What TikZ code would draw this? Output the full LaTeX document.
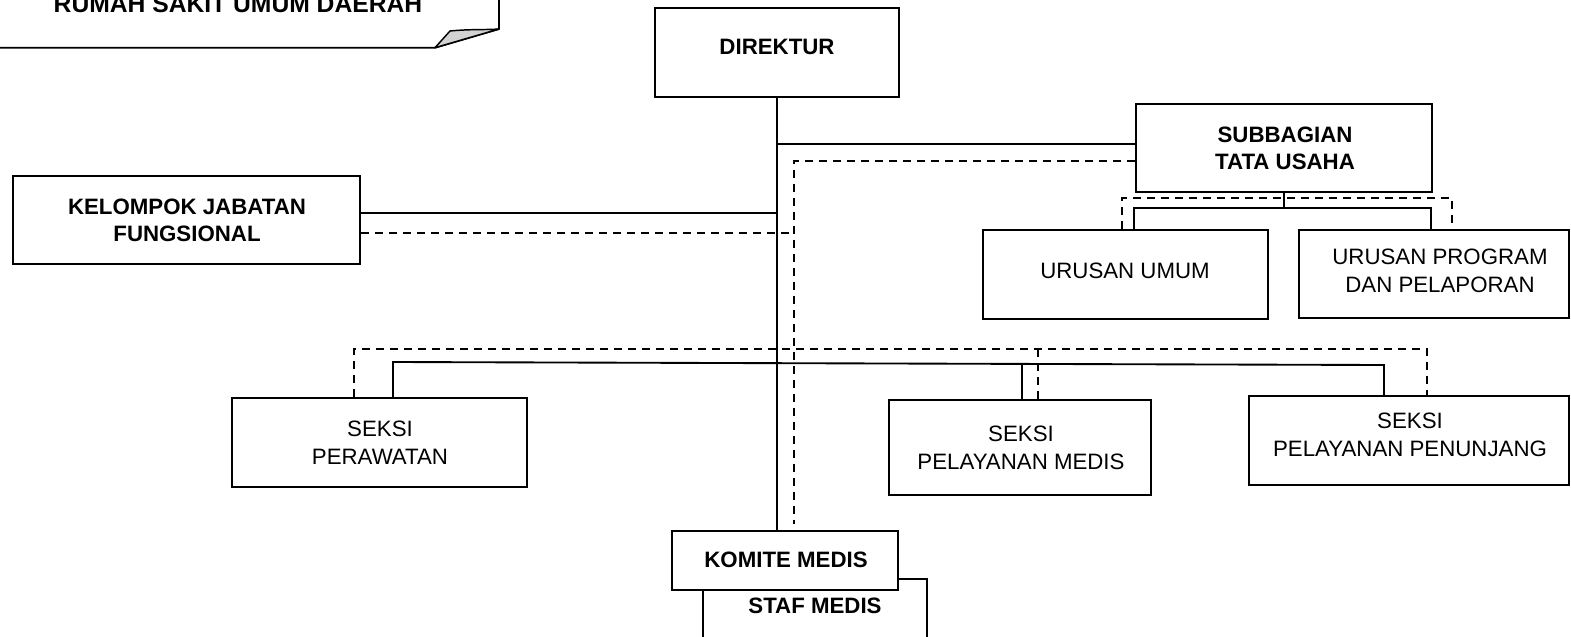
\documentclass[tikz,border=0pt]{standalone}
\usepackage{fontspec}
\setmainfont{Liberation Sans}
\usetikzlibrary{fit}
\tikzset{
  box/.style={draw, fill=white, line width=1.4pt, inner sep=0pt},
  txt/.style={align=center, inner sep=0pt, font=\fontsize{16.7}{21}\selectfont},
  btxt/.style={align=center, inner sep=0pt, font=\fontsize{16.7}{20}\selectfont\bfseries},
  conn/.style={line width=1.4pt},
  dconn/.style={line width=1.4pt, dash pattern=on 6pt off 4.5pt}
}
\begin{document}
\begin{tikzpicture}[x=0.75pt,y=-0.75pt]
\useasboundingbox (0,0) rectangle (1571,636);
\fill[white] (0,0) rectangle (1571,636);
\clip (0,0) rectangle (1571,636);

% callout
\draw[conn, line join=round] (-10,47.7) -- (435,47.7) -- (499,29) -- (499,-10);
\filldraw[line width=1.1pt, fill=gray!35, line join=round] (435,47.7) -- (450,31) .. controls (470,29) and (485,30) .. (499,29) -- cycle;
\node[anchor=base, inner sep=0pt, font=\fontsize{18.5}{22}\selectfont\bfseries] (title) at (238,12) {RUMAH SAKIT UMUM DAERAH};

% boxes
\node[box, fit={(703,579) (927,660)}] (staf) {};
\node[box, fit={(672,531) (898,590)}] (komite) {};
\node[box, fit={(655,8) (899,97)}] (direktur) {};
\node[box, fit={(1136,104) (1432,192)}] (subbag) {};
\node[box, fit={(13,176) (360,264)}] (kelompok) {};
\node[box, fit={(983,230) (1268,319)}] (umum) {};
\node[box, fit={(1299,230) (1569,318)}] (program) {};
\node[box, fit={(232,398) (527,487)}] (perawatan) {};
\node[box, fit={(889,400) (1151,495)}] (medis) {};
\node[box, fit={(1249,396) (1569,485)}] (penunjang) {};

% texts
\node[btxt] (tdir) at (777,47) {DIREKTUR};
\node[btxt] (tsub) at (1285,148.5) {SUBBAGIAN\\TATA USAHA};
\node[btxt] (tkel) at (187,220) {KELOMPOK JABATAN\\FUNGSIONAL};
\node[txt] (tumum) at (1125,271) {URUSAN UMUM};
\node[txt] (tprog) at (1440,271) {URUSAN PROGRAM\\DAN PELAPORAN};
\node[txt] (tper) at (380,443) {SEKSI\\PERAWATAN};
\node[txt] (tmed) at (1021,448) {SEKSI\\PELAYANAN MEDIS};
\node[txt] (tpen) at (1410,435) {SEKSI\\PELAYANAN PENUNJANG};
\node[btxt] (tkom) at (786,560) {KOMITE MEDIS};
\node[btxt] (tstaf) at (815,606) {STAF MEDIS};

% junction coordinates
\coordinate (a) at (777,97);
\coordinate (j1) at (777,144);
\coordinate (j2) at (777,213);
\coordinate (d1) at (794,161);
\coordinate (d2) at (794,233);
\coordinate (d3) at (794,524);
\coordinate (s1) at (1284,208);
\coordinate (s2) at (1134,208);
\coordinate (s3) at (1431,208);
\coordinate (q1) at (1122,198);
\coordinate (q2) at (1452,198);
\coordinate (b1) at (393,362);
\coordinate (b2) at (1384,365);
\coordinate (bm) at (1022,364);
\coordinate (e1) at (354,349);
\coordinate (e2) at (1427,349);
\coordinate (em) at (1038,349);

% solid connectors
\draw[conn] (a) -- (a |- komite.north);
\draw[conn] (j1) -- (j1 -| subbag.west);
\draw[conn] (j2 -| kelompok.east) -- (j2);
\draw[conn] (subbag.south -| s1) -- (s1);
\draw[conn] (s2 |- umum.north) -- (s2) -- (s3) -- (s3 |- program.north);
\draw[conn] (b1 |- perawatan.north) -- (b1) -- (b2) -- (b2 |- penunjang.north);
\draw[conn] (bm) -- (bm |- medis.north);

% dashed connectors
\draw[dconn] (d1 -| subbag.west) -- (d1) -- (d3);
\draw[dconn] (d2 -| kelompok.east) -- (d2);
\draw[dconn] (q1 |- umum.north) -- (q1) -- (q2) -- (q2 |- program.north);
\draw[dconn] (e1 |- perawatan.north) -- (e1) -- (e2) -- (e2 |- penunjang.north);
\draw[dconn] (em) -- (em |- medis.north);
\end{tikzpicture}
\end{document}
